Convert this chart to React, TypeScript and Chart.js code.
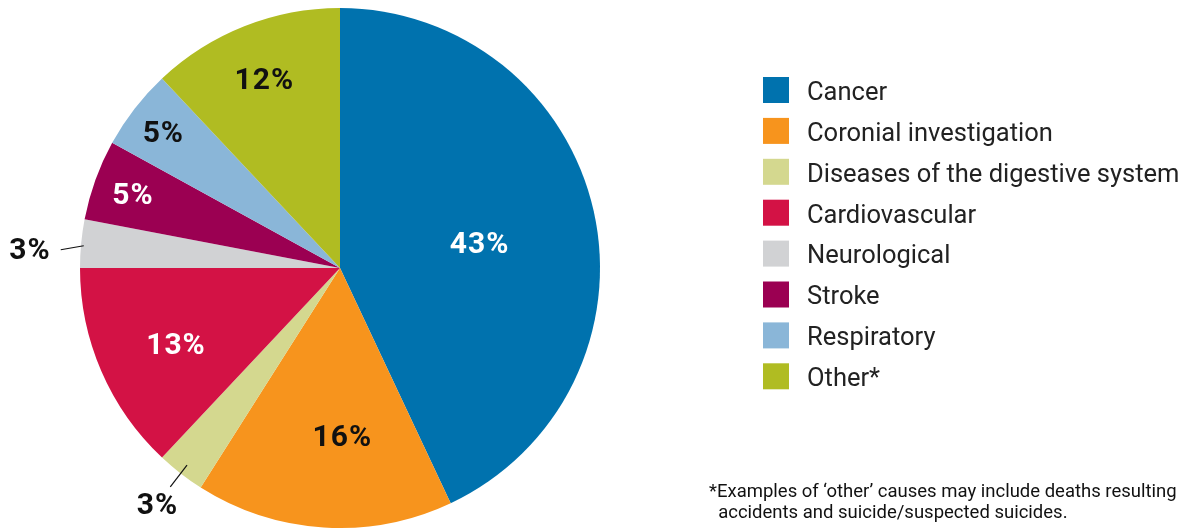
import React, { useEffect, useRef } from "react";
import { Chart, registerables } from "chart.js";

Chart.register(...registerables);

const categories = [
  "Cancer",
  "Coronial investigation",
  "Diseases of the digestive system",
  "Cardiovascular",
  "Neurological",
  "Stroke",
  "Respiratory",
  "Other*",
];
const values = [43, 16, 3, 13, 3, 5, 5, 12];
const colors = [
  "#0072AE",
  "#F7941D",
  "#D4D88F",
  "#D31245",
  "#D1D2D4",
  "#9B0052",
  "#8AB6D8",
  "#B0BC22",
];
const footnoteLines = [
  "*Examples of \u2018other\u2019 causes may include deaths resulting",
  "  accidents and suicide/suspected suicides.",
];

// label placement: fraction of radius (inside), or -1 for leader-line labels
const labelFrac = [0.55, 0.65, -1, 0.7, -1, 0.85, 0.86, 0.79];
const labelNudgeX = [0, 13, 0, 3, -4, 1, 0, 0];
const labelNudgeY = [9, 2, 3, 6, 2, 3, 4, 4];
const labelColor = ["#fff", "#111", "#111", "#fff", "#111", "#fff", "#111", "#111"];

const FONT = "Roboto, 'DejaVu Sans', sans-serif";

const overlayPlugin = {
  id: "overlay",
  afterDraw(chart: any) {
    const ctx = chart.ctx as CanvasRenderingContext2D;
    const meta = chart.getDatasetMeta(0);
    const total = values.reduce((a, b) => a + b, 0);
    ctx.save();
    meta.data.forEach((arc: any, i: number) => {
      const p = arc.getProps(["x", "y", "startAngle", "endAngle", "outerRadius"], true);
      const mid = (p.startAngle + p.endAngle) / 2;
      const r = p.outerRadius;
      const txt = Math.round((values[i] / total) * 100) + "%";
      ctx.font = `bold 30px ${FONT}`;
      (ctx as any).letterSpacing = "1px";
      ctx.fillStyle = labelColor[i];
      ctx.textBaseline = "middle";
      const nx = labelNudgeX[i];
      const ny = labelNudgeY[i];
      if (labelFrac[i] > 0) {
        ctx.textAlign = "center";
        ctx.fillText(
          txt,
          p.x + Math.cos(mid) * r * labelFrac[i] + nx,
          p.y + Math.sin(mid) * r * labelFrac[i] + ny
        );
      } else {
        ctx.strokeStyle = "#111";
        ctx.lineWidth = 1.2;
        if (Math.cos(mid) < -0.9) {
          const ix = p.x + Math.cos(mid) * r * 0.99;
          const iy = p.y + Math.sin(mid) * r * 0.99 + 2;
          const ox = ix - 23;
          const oy = iy + 4;
          ctx.beginPath();
          ctx.moveTo(ix, iy);
          ctx.lineTo(ox, oy);
          ctx.stroke();
          ctx.textAlign = "right";
          ctx.fillText(txt, ox - 6 + nx, oy + ny);
        } else {
          const ix = p.x + Math.cos(mid) * r * 0.96;
          const iy = p.y + Math.sin(mid) * r * 0.96;
          const ox = p.x + Math.cos(mid) * r * 1.065;
          const oy = p.y + Math.sin(mid) * r * 1.065;
          ctx.beginPath();
          ctx.moveTo(ix, iy);
          ctx.lineTo(ox, oy);
          ctx.stroke();
          ctx.textAlign = "center";
          ctx.fillText(txt, p.x + Math.cos(mid) * r * 1.145 + nx, p.y + Math.sin(mid) * r * 1.145 + ny);
        }
      }
    });
    (ctx as any).letterSpacing = "0px";

    // legend
    const lx = 763;
    const ly = 77;
    const step = 40.9;
    categories.forEach((c, i) => {
      ctx.fillStyle = colors[i];
      ctx.fillRect(lx, ly + i * step, 26, 26);
      ctx.fillStyle = "#222";
      ctx.font = `25.5px ${FONT}`;
      ctx.textAlign = "left";
      ctx.textBaseline = "middle";
      ctx.fillText(c, 807, ly + 16.5 + i * step);
    });

    // footnote
    ctx.fillStyle = "#111";
    ctx.font = `18.5px ${FONT}`;
    ctx.textAlign = "left";
    ctx.textBaseline = "middle";
    footnoteLines.forEach((t, i) => {
      ctx.fillText(t, 709, 492 + i * 21);
    });
    ctx.restore();
  },
};

export default function App() {
  const ref = useRef<HTMLCanvasElement>(null);
  useEffect(() => {
    if (!ref.current) return;
    const chart = new Chart(ref.current, {
      type: "pie",
      data: {
        labels: categories,
        datasets: [
          {
            data: values,
            backgroundColor: colors,
            borderWidth: 0,
            hoverOffset: 0,
          },
        ],
      },
      options: {
        animation: false,
        responsive: false,
        events: [],
        layout: { padding: { left: 80, top: 8, right: 587, bottom: 1 } },
        plugins: {
          legend: { display: false },
          tooltip: { enabled: false },
        },
      },
      plugins: [overlayPlugin],
    });
    return () => chart.destroy();
  }, []);
  return (
    <div style={{ position: "absolute", left: 0, top: 0, width: 1187, height: 529, background: "#fff" }}>
      <canvas ref={ref} width={1187} height={529} style={{ width: 1187, height: 529 }} />
    </div>
  );
}
